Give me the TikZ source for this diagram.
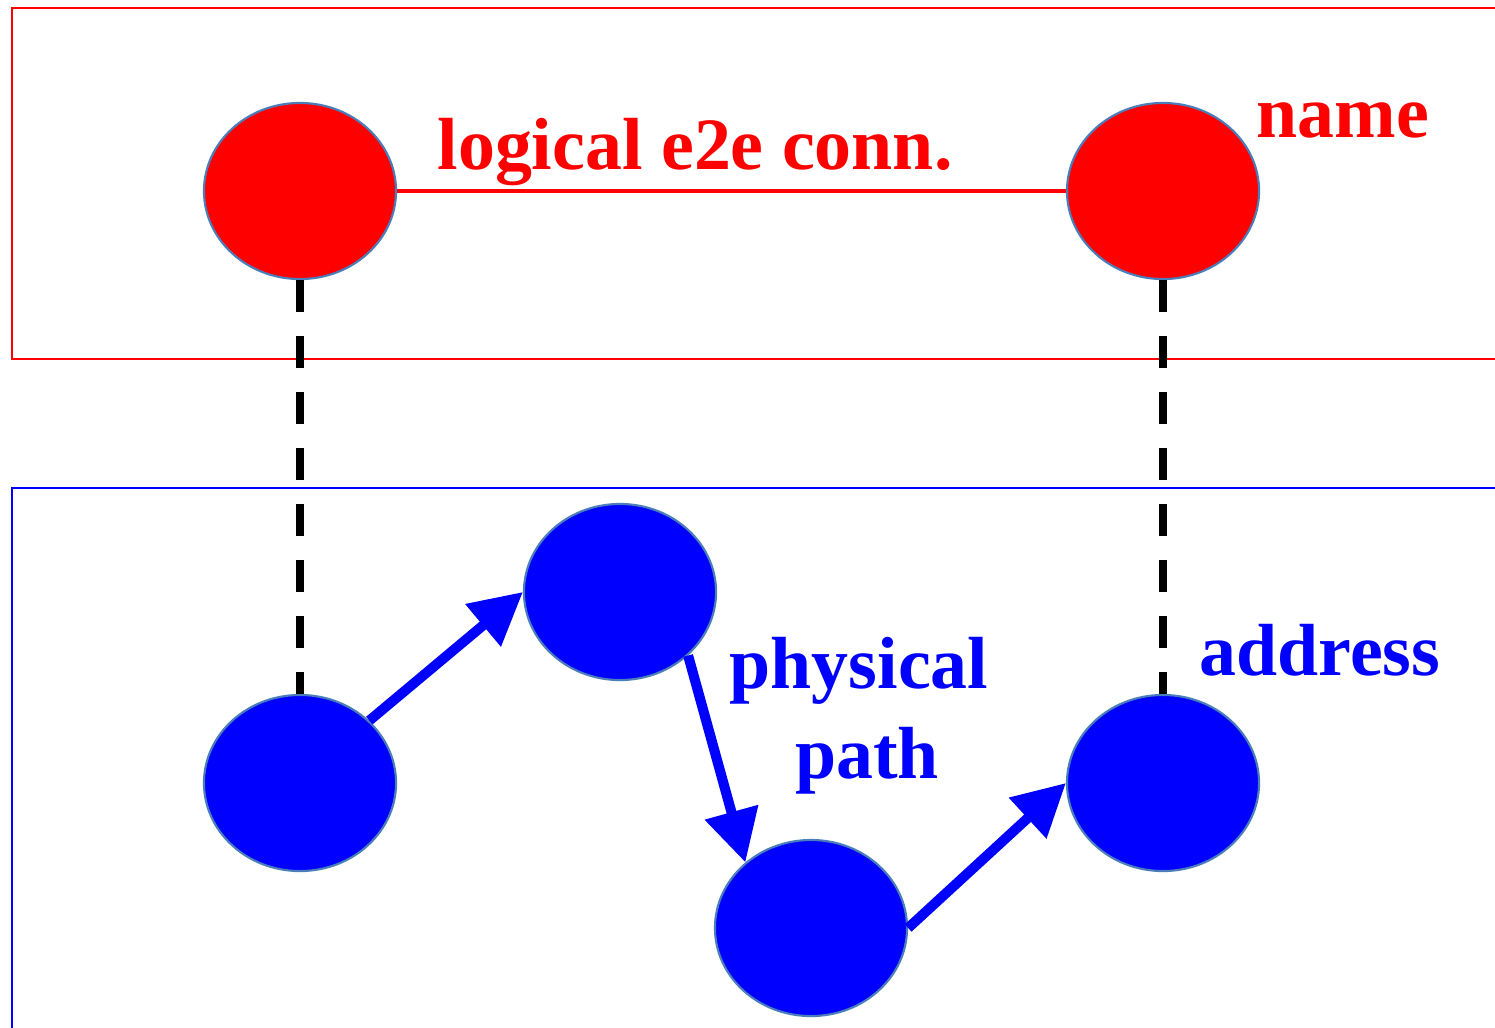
\documentclass[tikz,border=0pt]{standalone}
\usepackage{fontspec}
\setmainfont{Liberation Serif}
\usepackage{tikz}
\usepackage{xcolor}
\usetikzlibrary{shapes.geometric, arrows.meta}
\definecolor{rimblue}{HTML}{4A7EBB}
\tikzstyle{namenode} = [ellipse, minimum width=1.92cm, minimum height=1.76cm, inner sep=0pt,
                        draw=rimblue, line width=0.6pt, fill=red]
\tikzstyle{addrnode} = [namenode, fill=blue]
\tikzstyle{lbl}      = [font=\fontsize{21}{24}\selectfont\bfseries, inner sep=0pt, anchor=base]
\tikzstyle{hop}      = [-{Triangle[length=0.52cm, width=0.53cm]}, line width=0.1cm, blue]
\tikzstyle{bind}     = [dash pattern=on 0.32cm off 0.24cm, line width=0.08cm, black]
\begin{document}
\begin{tikzpicture}[x=0.01cm, y=-0.01cm]
    \useasboundingbox[fill=white] (0,0) rectangle (1495,1027);
    % layers
    \draw[red, line width=0.02cm] (12,8) rectangle (1520,359);
    \draw[blue, line width=0.02cm] (12,488) rectangle (1520,1060);

    \node (rl) [namenode] at (300,191) {};
    \node (rr) [namenode] at (1163,191) {};
    \node (bl) [addrnode] at (300,783) {};
    \node (bt) [addrnode] at (620,592) {};
    \node (bb) [addrnode] at (811,928) {};
    \node (br) [addrnode] at (1163,783) {};

    \draw[red, line width=0.045cm] (rl) -- (rr);
    \draw[bind] (rl.south) -- (bl.north);
    \draw[bind] (rr.south) -- (br.north);

    \draw[hop] (bl.42) -- (bt.west);
    \draw[hop] (bt.-43) -- (bb.135);
    \draw[hop] (bb.east) -- (br.west);

    \node (conn) [lbl, red] at (695,169) {logical e2e conn.};
    \node (name) [lbl, red] at (1343,137) {name};
    \node (phys) [lbl, blue] at (859,688) {physical};
    \node (path) [lbl, blue] at (867,778) {path};
    \node (addr) [lbl, blue] at (1320,675) {address};
\end{tikzpicture}
\end{document}
